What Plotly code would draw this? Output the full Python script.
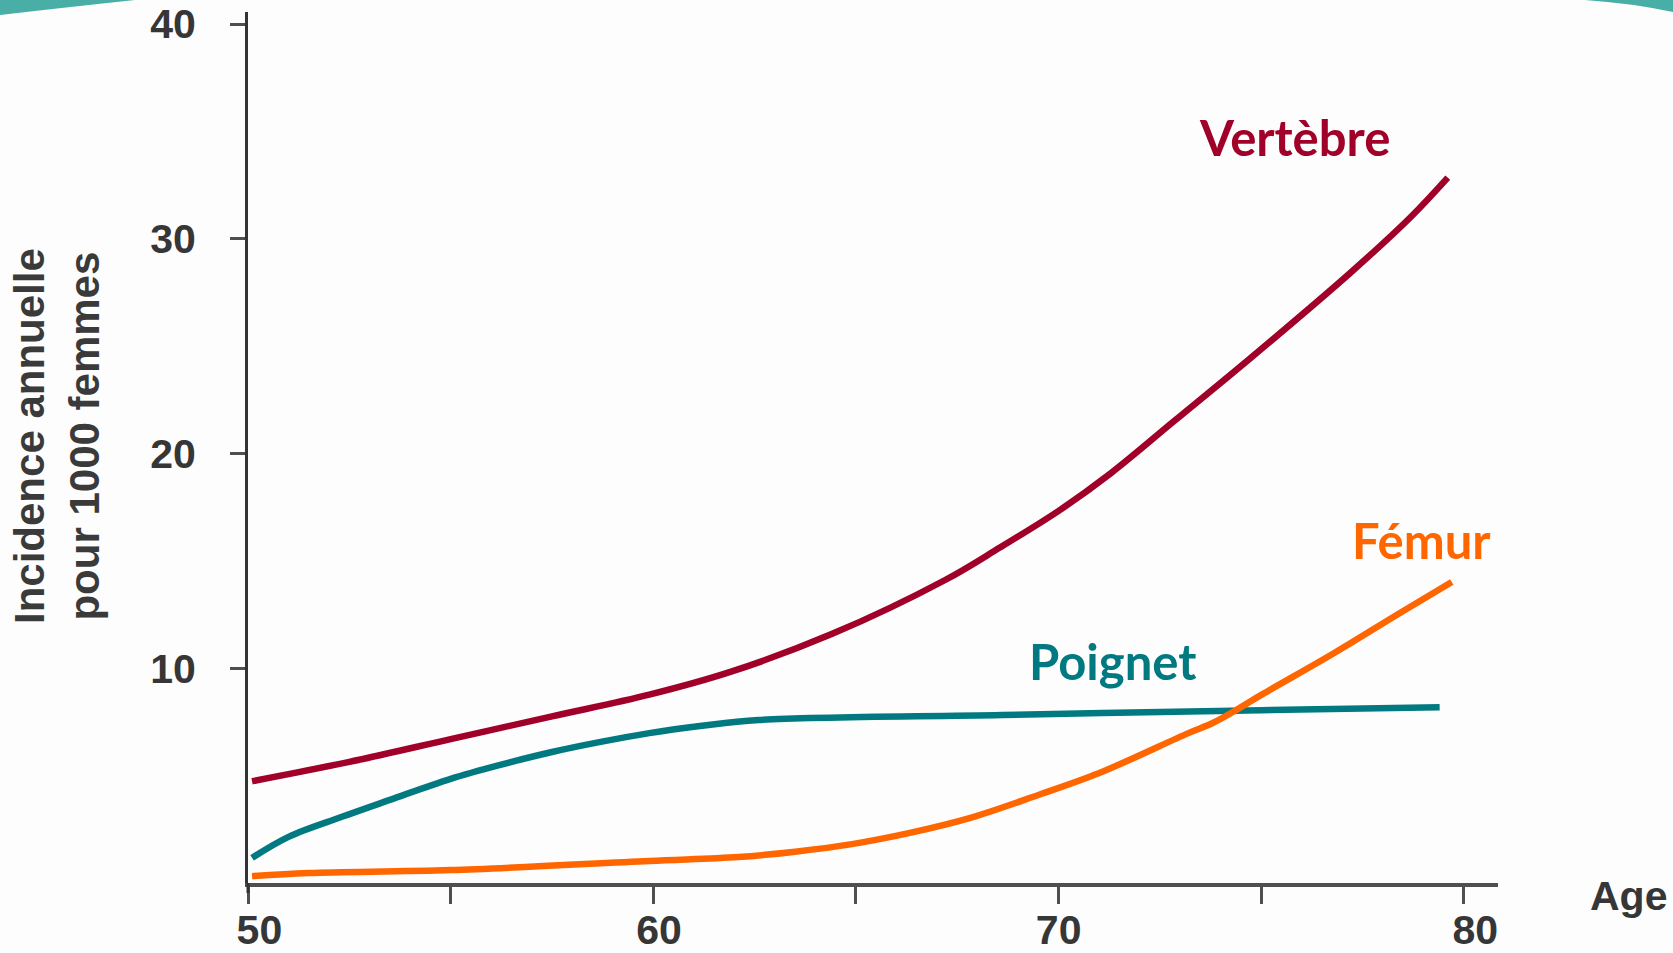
import plotly.graph_objects as go

# ---- data ----
age_vertebre = [50.1, 52.5, 55.0, 57.5, 59.9, 61.9, 64.4, 67.2, 68.55, 70.0, 71.3, 72.85, 74.7, 77.2, 78.7, 79.6]
val_vertebre = [4.74, 5.64, 6.70, 7.76, 8.77, 9.83, 11.59, 14.11, 15.62, 17.33, 19.10, 21.51, 24.39, 28.42, 31.04, 32.85]

age_poignet = [50.1, 51.0, 52.3, 53.5, 55.0, 56.2, 57.5, 58.7, 59.9, 61.2, 62.6, 68.6, 75.0, 79.4]
val_poignet = [1.17, 2.15, 3.07, 3.87, 4.85, 5.49, 6.10, 6.57, 6.98, 7.32, 7.59, 7.82, 8.05, 8.19]

age_femur = [50.1, 51.5, 55.0, 59.9, 62.1, 63.5, 64.9, 66.3, 67.8, 69.5, 71.0, 73.2, 73.8, 74.5, 75.0, 76.8, 78.4, 79.7]
val_femur = [0.32, 0.46, 0.60, 1.03, 1.21, 1.46, 1.81, 2.32, 3.02, 4.10, 5.12, 6.98, 7.45, 8.19, 8.76, 10.71, 12.55, 14.02]

x_tickvals = [50, 55, 60, 65, 70, 75, 80]
x_ticktext = ["\u00a0\u00a050", "", "\u00a060", "", "70", "", "\u00a0\u00a080"]
y_tickvals = [10, 20, 30, 40]
y_ticktext = ["10", "20", "30", "40"]

series_names = ["Vertèbre", "Poignet", "Fémur"]
series_colors = ["#A10028", "#007A80", "#FF6600"]

# ---- figure ----
W, H = 1673, 953
ML, MR, MT, MB = 248, 175, 12, 70

fig = go.Figure()
for name, xs, ys, col in [
    (series_names[0], age_vertebre, val_vertebre, series_colors[0]),
    (series_names[1], age_poignet, val_poignet, series_colors[1]),
    (series_names[2], age_femur, val_femur, series_colors[2]),
]:
    fig.add_trace(go.Scatter(
        x=xs, y=ys, mode="lines", name=name,
        line=dict(color=col, width=6.5, shape="spline", smoothing=1.0),
        hoverinfo="skip", showlegend=False,
    ))

tick_font = dict(family="Liberation Sans, Arial, sans-serif", size=41, color="#363636", weight="bold")

fig.update_xaxes(
    range=[50, 80.84], showgrid=False, zeroline=False, automargin=False,
    showline=True, linecolor="#4f4f4f", linewidth=4,
    ticks="outside", ticklen=17, tickwidth=3, tickcolor="#4f4f4f",
    tickvals=x_tickvals, ticktext=x_ticktext,
    tickfont=tick_font, ticklabelstandoff=-9,
)
fig.update_yaxes(
    range=[0, 40.56], showgrid=False, zeroline=False, automargin=False,
    showline=True, linecolor="#333333", linewidth=3,
    ticks="outside", ticklen=15, tickwidth=3, tickcolor="#4f4f4f",
    tickvals=y_tickvals, ticktext=y_ticktext, ticklabeloverflow="allow",
    tickfont=tick_font, ticklabelstandoff=26,
)

def px_x(p):
    return (p - ML) / (W - ML - MR)

def px_y(p):
    return (H - MB - p) / (H - MT - MB)

label_font = "Lato, Open Sans, sans-serif"
annots = [
    dict(text="Vertèbre", x=1294, y=137, color=series_colors[0]),
    dict(text="Fémur", x=1421, y=540, color=series_colors[2]),
    dict(text="Poignet", x=1112, y=661, color=series_colors[1]),
]
for a in annots:
    fig.add_annotation(
        text=a["text"], xref="paper", yref="paper",
        x=px_x(a["x"]), y=px_y(a["y"]), xanchor="center", yanchor="middle",
        showarrow=False,
        font=dict(family=label_font, size=49, color=a["color"], weight="bold"),
    )

# axis titles
fig.add_annotation(
    text="Incidence annuelle<br>pour 1000 femmes", xref="paper", yref="paper",
    x=px_x(57), y=px_y(436), xanchor="center", yanchor="middle",
    textangle=-90, showarrow=False,
    font=dict(family="Liberation Sans, Arial, sans-serif", size=42, color="#3a3a3a", weight="bold"),
)
fig.add_annotation(
    text="Age", xref="paper", yref="paper",
    x=px_x(1628), y=px_y(896), xanchor="center", yanchor="middle",
    showarrow=False,
    font=dict(family="Liberation Sans, Arial, sans-serif", size=41, color="#363636", weight="bold"),
)

# small extension of the vertical axis below the horizontal axis
fig.add_shape(
    type="line", xref="paper", yref="paper",
    x0=0, x1=0, y0=0, y1=px_y(893),
    line=dict(color="#333333", width=3),
)

# decorative teal arcs at the top corners
fig.add_shape(
    type="path", xref="paper", yref="paper", layer="below",
    path=f"M {px_x(0)},{px_y(0)} L {px_x(0)},{px_y(15)} Q {px_x(60)},{px_y(8)} {px_x(135)},{px_y(0)} Z",
    fillcolor="rgba(40,160,150,0.85)", line=dict(width=0),
)
fig.add_shape(
    type="path", xref="paper", yref="paper", layer="below",
    path=f"M {px_x(1585)},{px_y(0)} Q {px_x(1630)},{px_y(3)} {px_x(1673)},{px_y(12)} L {px_x(1673)},{px_y(0)} Z",
    fillcolor="rgba(40,160,150,0.85)", line=dict(width=0),
)

fig.update_layout(
    width=W, height=H,
    margin=dict(l=ML, r=MR, t=MT, b=MB, autoexpand=False),
    paper_bgcolor="#fdfdfe", plot_bgcolor="#fdfdfe",
)

fig.write_html(
    "out.html",
    config={"displayModeBar": False},
    post_script="document.body.style.margin='0';document.body.style.overflow='hidden';",
)
